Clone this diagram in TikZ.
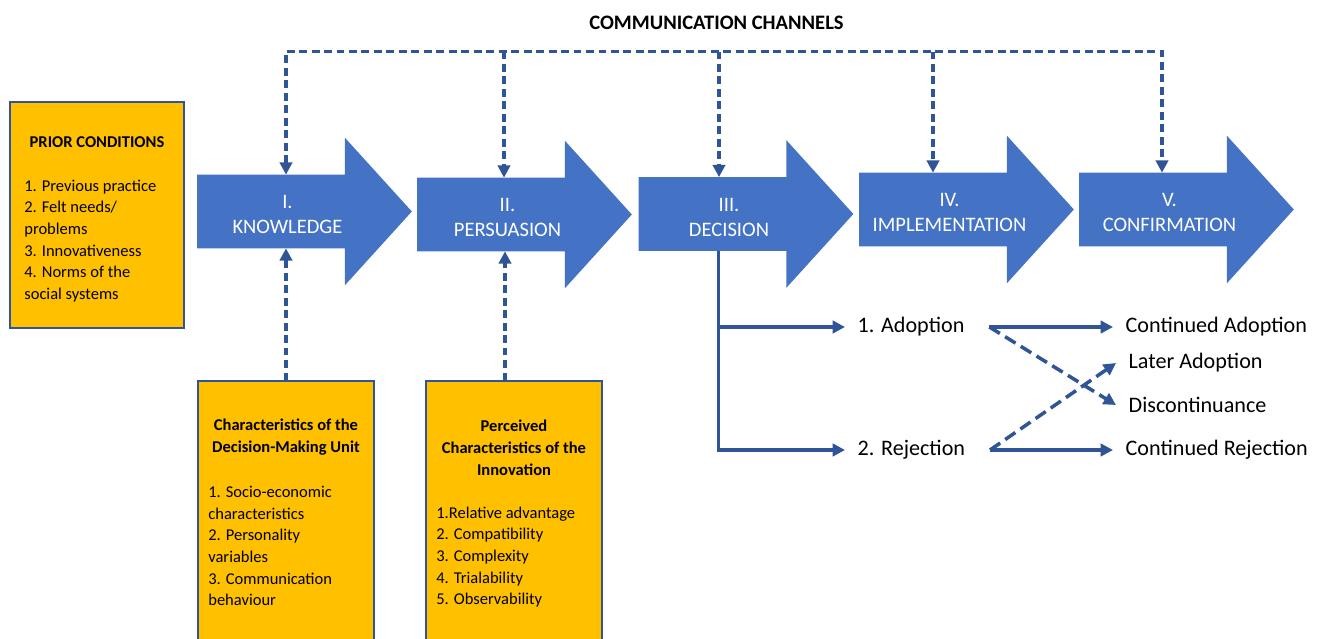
\documentclass[tikz,border=0pt]{standalone}
\usepackage{fontspec}
\setmainfont{Carlito}
\usetikzlibrary{positioning, arrows.meta, calc}
\definecolor{StageBlue}{RGB}{68,114,196}
\definecolor{LinkBlue}{RGB}{47,85,151}
\definecolor{CondGold}{RGB}{255,192,0}

\begin{document}
\begin{tikzpicture}[x=0.02cm, y=-0.02cm, >={Triangle[length=7pt,width=7pt]},
    stagebody/.style={minimum width=2.94cm, minimum height=1.46cm, inner sep=0pt},
    stagetext/.style={text=white, align=center, font=\fontsize{11.7}{14.2}\selectfont},
    condbox/.style={draw=LinkBlue, line width=0.7pt, fill=CondGold, inner sep=0pt},
    condtitle/.style={align=center, inner sep=0pt, font=\fontsize{9.4}{12.4}\selectfont\bfseries},
    condlist/.style={align=left, inner sep=0pt, font=\fontsize{9.4}{12.3}\selectfont},
    channel/.style={LinkBlue, line width=2pt, dash pattern=on 4.5pt off 2.6pt},
    switchline/.style={LinkBlue, line width=2pt, dash pattern=on 7pt off 3.5pt},
    flow/.style={LinkBlue, line width=2pt},
    outcome/.style={font=\fontsize{12.6}{15}\selectfont, inner xsep=7pt, inner ysep=0pt}]
  \clip (0,0) rectangle (1326,639);

  % title over the channel bus
  \node[font=\fontsize{11.7}{14}\selectfont\bfseries] (chtitle) at (716.5,23) {COMMUNICATION CHANNELS};

  % the five stages as block arrows
  \foreach \nm/\cx/\cy/\txt in {know/271/211.5/{I.\\KNOWLEDGE}, pers/491/214.5/{II.\\PERSUASION},
      deci/712.5/214/{III.\\DECISION}, impl/933/209.5/{IV.\\IMPLEMENTATION}, conf/1153/209.5/{V.\\CONFIRMATION}}{
    \node[stagebody] (\nm) at (\cx,\cy) {};
    \fill[StageBlue] (\nm.north west) -- (\nm.north east) -- ++(0,-37) -- ($(\nm.east)+(67,0)$)
      -- ($(\nm.south east)+(0,37)$) -- (\nm.south east) -- (\nm.south west) -- cycle;
    \node[stagetext] (\nm txt) at ($(\nm)+(16.5,3)$) {\txt};
  }

  % prior conditions
  \node[condbox, minimum width=3.48cm, minimum height=4.52cm] (prior) at (97,215) {};
  \node[condtitle] (priortitle) at (97,142) {PRIOR CONDITIONS};
  \node[condlist, anchor=west] (priorlist) at (24,241) {1. Previous practice\\2. Felt needs/\\problems\\3. Innovativeness\\4. Norms of the\\social systems};

  % decision-making unit
  \node[condbox, minimum width=3.52cm, minimum height=5.6cm] (dmu) at (286,521) {};
  \node[condtitle] (dmutitle) at (286,437) {Characteristics of the\\Decision-Making Unit};
  \node[condlist, anchor=west] (dmulist) at (208,546) {1. Socio-economic\\characteristics\\2. Personality\\variables\\3. Communication\\behaviour};

  % perceived characteristics of the innovation
  \node[condbox, minimum width=3.52cm, minimum height=5.6cm] (innov) at (514,521) {};
  \node[condtitle] (innovtitle) at (514,447.5) {Perceived\\Characteristics of the\\Innovation};
  \node[condlist, anchor=west] (innovlist) at (436,557) {1.Relative advantage\\2. Compatibility\\3. Complexity\\4. Trialability\\5. Observability};

  % communication channels
  \coordinate (ch1) at (286,51.5);
  \coordinate (ch2) at (504,51.5);
  \coordinate (ch3) at (719,51.5);
  \coordinate (ch4) at (933,51.5);
  \coordinate (ch5) at (1162,51.5);
  \draw[channel, <->] (ch1 |- know.north) -- (ch1) -- (ch5) -- (ch5 |- conf.north);
  \draw[channel, ->] (ch2) -- (ch2 |- pers.north);
  \draw[channel, ->] (ch3) -- (ch3 |- deci.north);
  \draw[channel, ->] (ch4) -- (ch4 |- impl.north);

  % characteristics feeding the first two stages
  \coordinate (up2) at ($(innov.north)+(-9,0)$);
  \draw[channel, ->] (dmu.north) -- (dmu.north |- know.south);
  \draw[channel, ->] (up2) -- (up2 |- pers.south);

  % outcomes of the decision
  \node[outcome, anchor=west] (adopt) at (845,327) {1. Adoption};
  \node[outcome, anchor=west] (reject) at (845,450) {2. Rejection};
  \node[outcome, anchor=west] (contadopt) at (1113,327) {Continued Adoption};
  \node[outcome, anchor=west] (later) at (1116,363) {Later Adoption};
  \node[outcome, anchor=west] (disc) at (1116,405) {Discontinuance};
  \node[outcome, anchor=west] (contreject) at (1113,450) {Continued Rejection};

  \coordinate (split) at ($(deci.south)+(6,0)$);
  \draw[flow, ->] (split) |- (adopt.west);
  \draw[flow, ->] (split) |- (reject.west);
  \draw[flow, ->] ([xshift=7pt]adopt.east) -- (contadopt.west);
  \draw[flow, ->] ([xshift=7pt]reject.east) -- (contreject.west);
  \draw[switchline, ->] ([xshift=7pt]adopt.east) -- (disc.west);
  \draw[switchline, ->] ([xshift=7pt]reject.east) -- (later.west);
\end{tikzpicture}
\end{document}
